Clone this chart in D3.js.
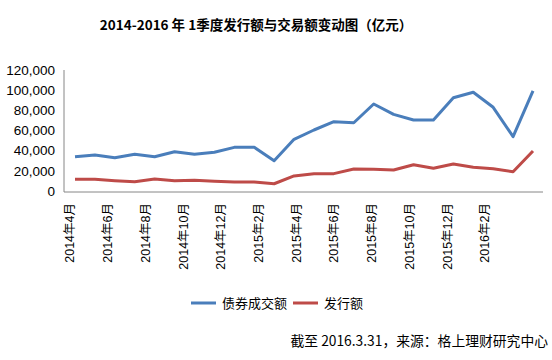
<!DOCTYPE html>
<html><head><meta charset="utf-8">
<script src="https://cdn.jsdelivr.net/npm/d3@7"></script>
<style>body{margin:0;background:#fff}svg{display:block}</style>
</head><body>
<svg id="c" width="552" height="360"></svg>
<script>
const months = ["2014年4月","2014年5月","2014年6月","2014年7月","2014年8月","2014年9月","2014年10月","2014年11月","2014年12月","2015年1月","2015年2月","2015年3月","2015年4月","2015年5月","2015年6月","2015年7月","2015年8月","2015年9月","2015年10月","2015年11月","2015年12月","2016年1月","2016年2月","2016年3月"];
const trade = [34000,35700,33000,36400,34000,39000,36400,38400,43300,43300,30000,51300,60500,68700,67700,86300,76000,70400,70400,92500,97900,83000,53900,99200];
const issue = [11600,11600,10200,9200,11900,10200,10600,9600,8900,8900,7200,14900,17200,17200,21800,21500,20800,26100,22500,26800,23500,22100,19100,39700];
const tickLabels = ["2014年4月","2014年6月","2014年8月","2014年10月","2014年12月","2015年2月","2015年4月","2015年6月","2015年8月","2015年10月","2015年12月","2016年2月"];
const yTicks = [0,20000,40000,60000,80000,100000,120000];
const seriesNames = ["债券成交额","发行额"];
const colors = ["#4a7ebb","#be4b48"];

const svg = d3.select("#c");
const font = "'Liberation Sans','Noto Sans CJK SC',sans-serif";
const plot = {left:64, right:543, top:70, bottom:191};

svg.append("text").attr("x",256).attr("y",30).attr("text-anchor","middle")
  .attr("font-family","'Noto Sans CJK SC',sans-serif").attr("font-weight","bold").attr("font-size",13.5)
  .attr("fill","#000").text("2014-2016 年 1季度发行额与交易额变动图（亿元）");

const x = d3.scalePoint().domain(months).range([75,533]);
const y = d3.scaleLinear().domain([0,120000]).range([plot.bottom, plot.top]);

// y axis
const ya = svg.append("g").attr("transform",`translate(${plot.left},0)`)
  .call(d3.axisLeft(y).tickValues(yTicks).tickSize(0).tickPadding(9).tickFormat(d3.format(",")));
ya.select(".domain").attr("stroke","#868686").attr("d",`M0,${plot.top}V${plot.bottom+1}`);
ya.selectAll("text").attr("font-family",font).attr("font-size",13.5).attr("fill","#000");

// x axis line
svg.append("line").attr("x1",plot.left).attr("x2",plot.right).attr("y1",plot.bottom+1).attr("y2",plot.bottom+1)
  .attr("stroke","#868686");

// x labels
const xl = d3.scalePoint().domain(tickLabels).range([70,485]);
svg.append("g").selectAll("text").data(tickLabels).join("text")
  .attr("transform",d=>`translate(${xl(d)},203) rotate(-90)`)
  .attr("text-anchor","end").attr("dy","0.35em")
  .attr("font-family",font).attr("font-size",12.5).attr("fill","#000").text(d=>d);

const line = d3.line().x((d,i)=>x(months[i])).y(d=>y(d));
[trade,issue].forEach((s,k)=>{
  svg.append("path").datum(s).attr("d",line).attr("fill","none")
    .attr("stroke",colors[k]).attr("stroke-width",3).attr("stroke-linejoin","round");
});

// legend
const lg = [{x:191},{x:293}];
seriesNames.forEach((n,k)=>{
  svg.append("line").attr("x1",lg[k].x).attr("x2",lg[k].x+25).attr("y1",303).attr("y2",303)
    .attr("stroke",colors[k]).attr("stroke-width",3);
  svg.append("text").attr("x",lg[k].x+31).attr("y",303).attr("dy","0.35em")
    .attr("font-family","'Noto Sans CJK SC',sans-serif").attr("font-size",13).attr("fill","#000").text(n);
});

svg.append("text").attr("x",548).attr("y",341).attr("dy","0.35em").attr("text-anchor","end")
  .attr("font-family","'Noto Sans CJK SC',sans-serif").attr("font-size",13.8).attr("fill","#000")
  .text("截至 2016.3.31，来源：格上理财研究中心");
</script>
</body></html>
